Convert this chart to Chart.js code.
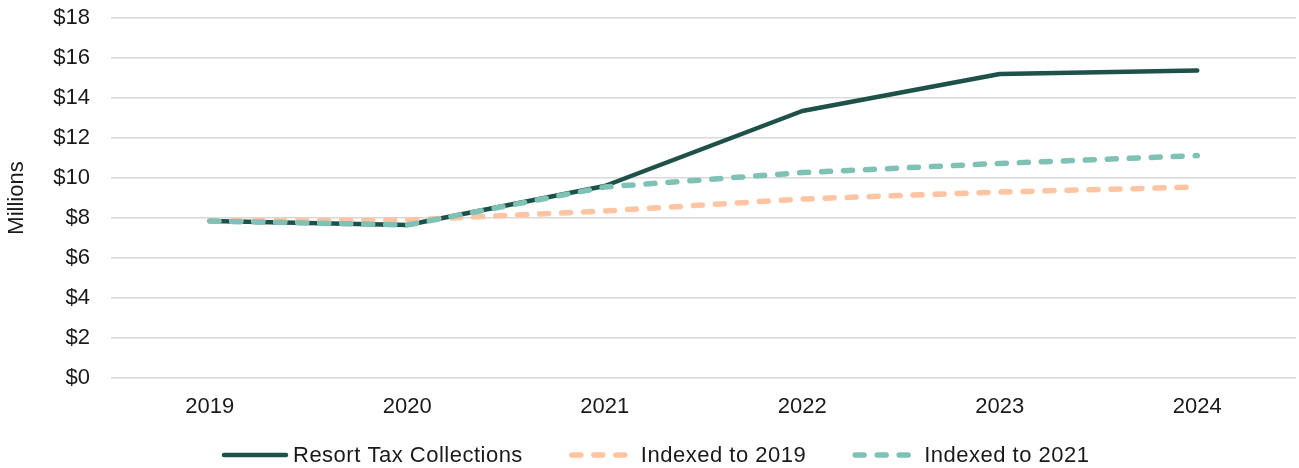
<!DOCTYPE html>
<html>
<head>
<meta charset="utf-8">
<script src="https://cdn.jsdelivr.net/npm/chart.js@4/dist/chart.umd.min.js"></script>
<style>
  html, body { margin: 0; padding: 0; background: #ffffff; }
  #wrap { width: 1299px; height: 468px; position: relative; }
</style>
</head>
<body>
<div id="wrap"><canvas id="chart" width="1299" height="468"></canvas></div>
<script>
// Resort tax collections vs. indexed projections, in millions of dollars
const years = ['2019', '2020', '2021', '2022', '2023', '2024'];
const resortTaxCollections = [7.85, 7.65, 9.6, 13.35, 15.2, 15.37];
const indexedTo2019 = [7.85, 7.9, 8.35, 8.95, 9.3, 9.55];
const indexedTo2021 = [7.85, 7.65, 9.55, 10.27, 10.73, 11.12];
const yTicks = [0, 2, 4, 6, 8, 10, 12, 14, 16, 18];

const FONT = '"Liberation Sans", Arial, sans-serif';
const TEXT = '#1a1a1a';

// Legend drawn on the canvas as a row of line samples + labels
const lineLegend = {
  id: 'lineLegend',
  afterDraw(chart) {
    const ctx = chart.ctx;
    const sets = chart.data.datasets;
    const sample = 66, gapText = 5, gapItem = 47, y = 455;
    ctx.save();
    ctx.font = '22px ' + FONT;
    if ('letterSpacing' in ctx) ctx.letterSpacing = '0.5px';
    let x = 222;
    sets.forEach((d) => {
      ctx.beginPath();
      ctx.strokeStyle = d.borderColor;
      ctx.lineWidth = d.borderWidth;
      ctx.lineCap = 'round';
      ctx.setLineDash(d.borderDash || []);
      ctx.moveTo(x + 2, y);
      ctx.lineTo(x + sample - 2, y);
      ctx.stroke();
      ctx.setLineDash([]);
      ctx.fillStyle = TEXT;
      ctx.textBaseline = 'middle';
      ctx.textAlign = 'left';
      ctx.fillText(d.label, x + sample + gapText, y + 1);
      x += sample + gapText + ctx.measureText(d.label).width + gapItem;
    });
    ctx.restore();
  }
};

new Chart(document.getElementById('chart'), {
  type: 'line',
  data: {
    labels: years,
    datasets: [
      {
        label: 'Resort Tax Collections',
        data: resortTaxCollections,
        borderColor: '#1e5149',
        borderWidth: 4.5,
        order: 3
      },
      {
        label: 'Indexed to 2019',
        data: indexedTo2019,
        borderColor: '#ffc4a1',
        borderWidth: 5.5,
        borderDash: [9, 13],
        order: 2
      },
      {
        label: 'Indexed to 2021',
        data: indexedTo2021,
        borderColor: '#7fc1b5',
        borderWidth: 5.5,
        borderDash: [9, 13],
        order: 1
      }
    ]
  },
  options: {
    responsive: false,
    animation: false,
    devicePixelRatio: 1,
    layout: { padding: { top: 18, right: 3, bottom: 0, left: 0 } },
    elements: {
      point: { radius: 0, hoverRadius: 0 },
      line: { tension: 0, borderCapStyle: 'round', borderJoinStyle: 'round', fill: false }
    },
    plugins: {
      legend: { display: false },
      tooltip: { enabled: false }
    },
    scales: {
      x: {
        offset: true,
        grid: { display: false, drawTicks: false },
        border: { display: false },
        ticks: {
          color: TEXT,
          padding: 16,
          font: { family: FONT, size: 22 },
          maxRotation: 0
        },
        afterFit(scale) { scale.height = 90; }
      },
      y: {
        min: 0,
        max: 18,
        afterBuildTicks(scale) { scale.ticks = yTicks.map(v => ({ value: v })); },
        grid: { color: '#d9d9d9', lineWidth: 1.5, drawTicks: false },
        border: { display: false },
        ticks: {
          color: TEXT,
          padding: 21,
          font: { family: FONT, size: 22 },
          callback: v => '$' + v
        },
        title: {
          display: true,
          text: 'Millions',
          color: TEXT,
          font: { family: FONT, size: 22 },
          padding: { top: 4, bottom: 0 }
        },
        afterFit(scale) {
          scale.width = 111;
          scale.paddingTop = 0;
          scale.paddingBottom = 0;
        }
      }
    }
  },
  plugins: [lineLegend]
});
</script>
</body>
</html>
